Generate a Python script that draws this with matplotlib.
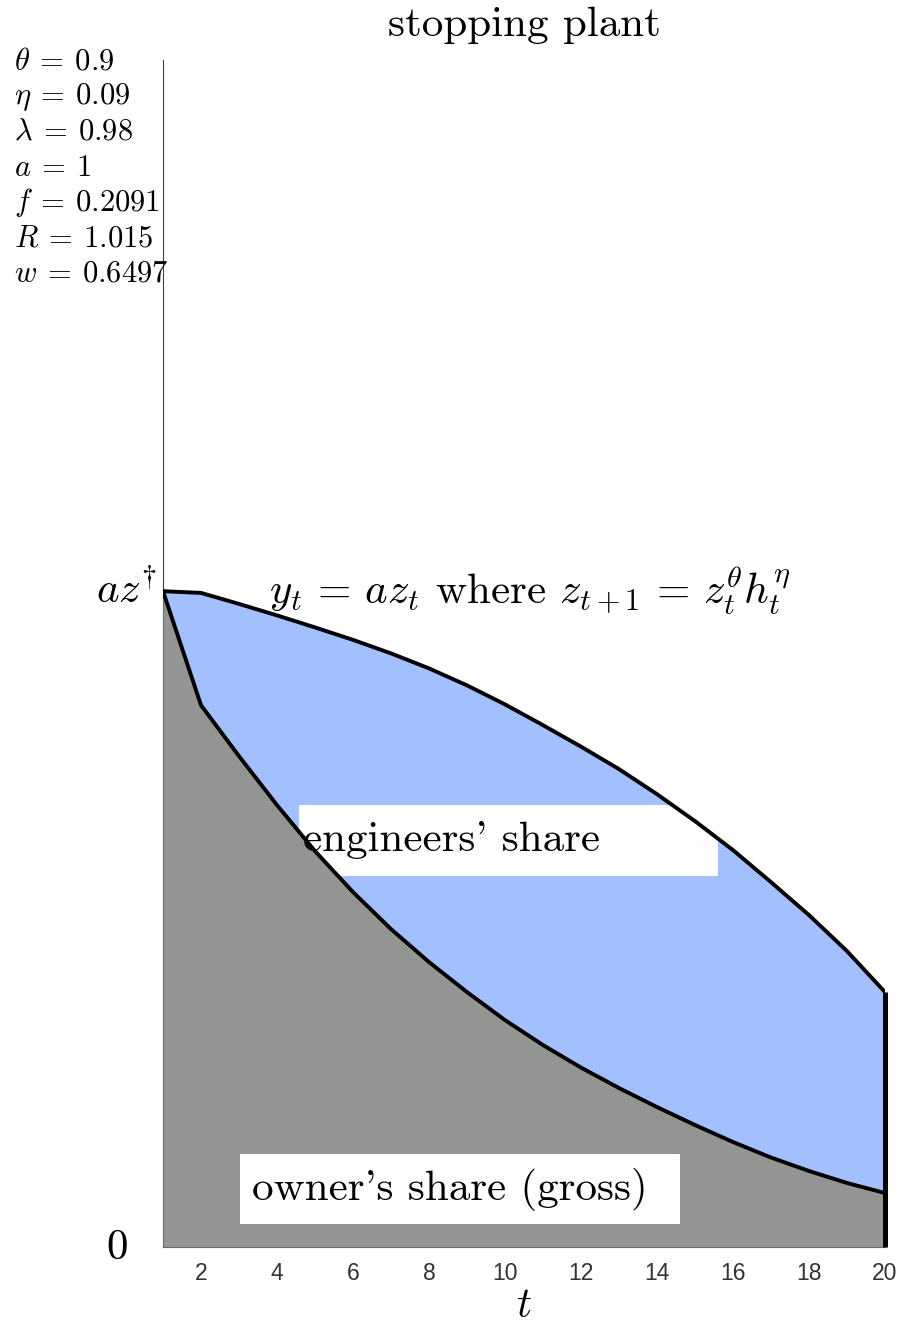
import numpy as np
import matplotlib
matplotlib.use("Agg")
import matplotlib.pyplot as plt
from matplotlib.patches import Rectangle

plt.rcParams["mathtext.fontset"] = "cm"
plt.rcParams["axes.unicode_minus"] = False

# model parameters shown in the corner
param_labels = [r"$\theta \: = \: 0.9$", r"$\eta \: = \: 0.09$", r"$\lambda \: = \: 0.98$",
                r"$a \: = \: 1$", r"$f \: = \: 0.2091$", r"$R \: = \: 1.015$",
                r"$w \: = \: 0.6497$"]

# time path, output normalised by a z-dagger
t = np.arange(1, 21)
output_path = [1.000, 0.9974, 0.9806, 0.9631, 0.9448, 0.9258, 0.9052, 0.8823, 0.8564, 0.8274,
               0.7957, 0.7630, 0.7287, 0.6905, 0.6494, 0.6052, 0.5564, 0.5061, 0.4512, 0.3887]
owner_path = [1.000, 0.8262, 0.7485, 0.6738, 0.6037, 0.5412, 0.4848, 0.4345, 0.3887, 0.3460,
              0.3079, 0.2736, 0.2424, 0.2134, 0.1860, 0.1601, 0.1364, 0.1159, 0.0976, 0.0823]
xticks = [2, 4, 6, 8, 10, 12, 14, 16, 18, 20]

BLUE = "#a2bffe"
GREY = "#929591"
W, H = 901, 1326

fig = plt.figure(figsize=(W / 100, H / 100), dpi=100)
ax = fig.add_axes([163 / W, 1 - 1247 / H, (885 - 163) / W, (1247 - 60) / H])

# shares: blue area up to output, grey area up to owner's gross share
ax.fill_between(t, 0, output_path, color=BLUE, lw=0, zorder=1)
ax.add_patch(Rectangle((4.58, 0.566), 11.02, 0.108, facecolor="white", lw=0, zorder=2))
ax.fill_between(t, 0, owner_path, color=GREY, lw=0, zorder=3)
ax.add_patch(Rectangle((3.03, 0.035), 11.57, 0.107, facecolor="white", lw=0, zorder=4))

ax.plot(t, output_path, color="black", lw=2.8, zorder=5, solid_joinstyle="round")
ax.plot(t, owner_path, color="black", lw=2.8, zorder=5, solid_joinstyle="round")
# plant is stopped at the last period
ax.plot([t[-1], t[-1]], [0, output_path[-1]], color="black", lw=3.6, zorder=5,
        clip_on=False, solid_capstyle="butt")

ax.set_xlim(1, 20)
ax.set_ylim(0, 1.81)
for s in ["top", "right"]:
    ax.spines[s].set_visible(False)
for s in ["left", "bottom"]:
    ax.spines[s].set_color("#444444")
    ax.spines[s].set_linewidth(0.8)
ax.set_yticks([])
ax.set_xticks(xticks)
ax.tick_params(axis="x", length=0, pad=11, labelsize=16.5, labelcolor="#333333")
for lab in ax.get_xticklabels():
    lab.set_fontfamily("Liberation Sans")
ax.set_xlabel(r"$t$", fontsize=30, labelpad=-1)

big = 31
ax.text(0.08, 0, r"$0$", fontsize=big, ha="right", va="center")
ax.text(0.84, 1.0, r"$az^{\dagger}$", fontsize=big, ha="right", va="center")
ax.text(10.65, 1.0, r"$y_t \, = \, az_t$ where $z_{t+1} \, = \, z_t^{\theta}h_t^{\eta}$",
        fontsize=big, family="cmr10", ha="center", va="center", zorder=6)
ax.text(4.68, 0.620, "engineers' share", fontsize=big, family="cmr10",
        ha="left", va="center", zorder=6)
ax.text(3.33, 0.088, "owner's share (gross)", fontsize=big, family="cmr10",
        ha="left", va="center", zorder=6)

fig.text(524 / W, 1 - 36 / H, "stopping plant", fontsize=big, family="cmr10",
         ha="center", va="baseline")

baselines = [69, 104.5, 140, 175.5, 211, 246.5, 282]
for lab, yb in zip(param_labels, baselines):
    fig.text(14 / W, 1 - yb / H, lab, fontsize=22, ha="left", va="baseline")

fig.savefig("out.png", dpi=100)
